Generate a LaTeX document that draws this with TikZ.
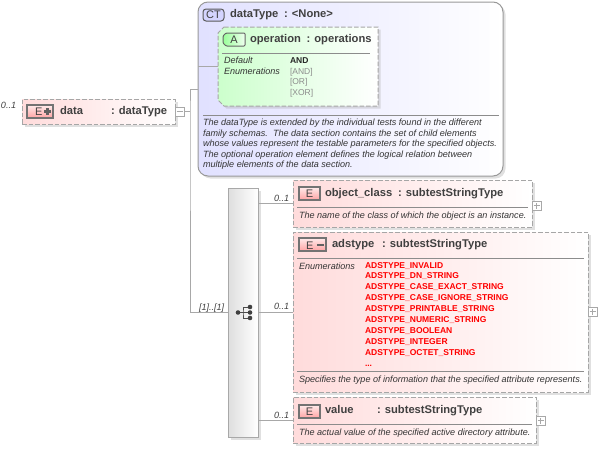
\documentclass[tikz,border=0pt]{standalone}
\usepackage{fontspec}
\setmainfont{Liberation Sans}
\usetikzlibrary{shadows}
\definecolor{cline}{HTML}{A8A8A8}
\definecolor{cdash}{HTML}{A6A6A6}
\definecolor{ctext}{HTML}{404040}
\tikzset{
  x=1pt,y=-1pt,
  conn/.style={draw=cline,line width=0.9pt},
  boxshadow/.style={drop shadow={shadow xshift=2.5pt,shadow yshift=-2.5pt,fill=black!35,opacity=.35}},
  boxbase/.style={inner sep=0pt,outer sep=0pt,draw=cdash,line width=1pt,dash pattern=on 4.5pt off 2pt,boxshadow},
  elembox/.style={boxbase,anchor=north west,left color=red!14,right color=white,rectangle},
  attrshape/.style={boxbase,left color=green!20,right color=white},
  anchorbox/.style={anchor=north west,inner sep=0pt,outer sep=0pt,rectangle},
  ctbox/.style={anchor=north west,inner sep=0pt,outer sep=0pt,rectangle,rounded corners=10pt,draw=black!40,line width=1pt,left color=blue!12,right color=white,boxshadow},
  seqbox/.style={anchor=north west,inner sep=0pt,outer sep=0pt,rectangle,draw=cline,line width=1pt,left color=black!13,right color=white,boxshadow},
  togglebox/.style={anchor=north west,inner sep=0pt,outer sep=0pt,rectangle,draw=cline,line width=0.8pt,fill=white,minimum width=9pt,minimum height=9pt},
  badge/.style={anchor=north west,inner sep=0pt,outer sep=0pt,rectangle,draw=black!55,line width=1.1pt,top color=red!8,bottom color=red!36,minimum height=13pt,text=ctext,font=\fontsize{11}{11}\selectfont},
  ctbadge/.style={anchor=north west,inner sep=0pt,outer sep=0pt,rectangle,rounded corners=3pt,draw=black!65,line width=1pt,fill=blue!17,minimum width=21pt,minimum height=12pt,text=ctext,font=\fontsize{11}{11}\selectfont},
  abadgeshape/.style={draw=black!60,line width=1pt,rounded corners=1pt,left color=green!40,right color=green!6},
  abadgetext/.style={inner sep=0pt,outer sep=0pt,text=ctext,font=\fontsize{11}{11}\selectfont},
  txt/.style={anchor=base west,inner sep=0pt,outer sep=0pt},
  nametxt/.style={txt,font=\bfseries\fontsize{11.2}{11.2}\selectfont,text=ctext},
  smalltxt/.style={txt,font=\itshape\fontsize{9.07}{9.07}\selectfont,text=black!80},
  card/.style={txt,font=\itshape\fontsize{9.07}{9.07}\selectfont,text=ctext},
  enumred/.style={txt,font=\bfseries\fontsize{8.5}{8.5}\selectfont,text=red},
  enumgray/.style={txt,font=\fontsize{8.5}{8.5}\selectfont,text=black!45},
  enumblack/.style={txt,font=\bfseries\fontsize{8.5}{8.5}\selectfont,text=black!85},
  rulel/.style={draw=black!45,line width=0.8pt},
  togl/.style={draw=cline,line width=0.8pt},
  iconl/.style={draw=black!70,line width=0.9pt},
  icond/.style={circle,fill=black!75,inner sep=0pt,outer sep=0pt,minimum size=4.6pt},
  barb/.style={draw=black!62,line width=2.1pt},
}
\begin{document}
\begin{tikzpicture}
\useasboundingbox (0,0) rectangle (598,450);
% --- boxes
\node[ctbox,minimum width=305pt,minimum height=174pt] (ct) at (198,2) {};
\path[attrshape] (224,27) -- (378,27) -- (378,106) -- (224,106) -- (218,100) -- (218,33) -- cycle;
\node[anchorbox,minimum width=160pt,minimum height=79pt] (op) at (218,27) {};
\node[elembox,minimum width=153pt,minimum height=25pt] (data) at (22,99) {};
\node[seqbox,minimum width=30pt,minimum height=249pt] (seq) at (228,188) {};
\node[elembox,minimum width=239pt,minimum height=47pt] (obj) at (293,180) {};
\node[elembox,minimum width=295pt,minimum height=160pt] (ads) at (293,232) {};
\node[elembox,minimum width=243pt,minimum height=46pt] (val) at (293,397) {};
% --- toggles
\node[togglebox] (tdata) at (175,107) {};
\node[togglebox] (tobj) at (532,201) {};
\node[togglebox] (tads) at (588,307) {};
\node[togglebox] (tval) at (536,416) {};
\draw[togl] ([xshift=-3pt]tdata.center) -- ([xshift=3pt]tdata.center);
\foreach \t in {tobj,tads,tval}{
  \draw[togl] ([xshift=-3pt]\t.center) -- ([xshift=3pt]\t.center);
  \draw[togl] ([yshift=-3pt]\t.center) -- ([yshift=3pt]\t.center);
}
% --- connectors
\coordinate (trunk) at (190,111.5);
\coordinate (ctin) at (198,66.5);
\draw[conn] (tdata.east) -- (trunk);
\draw[conn] (ct.west) -| (trunk) |- (seq.west);
\draw[conn] (ctin) -- (op.west);
\draw[conn] (seq.east |- obj.west) -- (obj.west);
\draw[conn] (seq.east |- ads.west) -- (ads.west);
\draw[conn] (seq.east |- val.west) -- (val.west);
% --- cardinalities
\node[card] (c0) at (1,108.5) {0..1};
\node[card] (c1) at (199,310) {[1]..[1]};
\node[card] (c2) at (274,201) {0..1};
\node[card] (c3) at (274,309) {0..1};
\node[card] (c4) at (274,418) {0..1};
% --- data element
\node[badge,minimum width=26pt] (bdata) at (27,105) {};
\node[txt,font=\fontsize{11}{11}\selectfont,text=ctext] (bdatae) at (35,115.5) {E};
\draw[barb] (44,111.5) -- (51,111.5);
\draw[barb] (47.5,108) -- (47.5,115);
\node[nametxt] (ndata) at (60,114) {data};
\node[nametxt] (tdatat) at (111,114) {: dataType};
% --- complex type
\node[ctbadge] (bct) at (203,9) {CT};
\node[nametxt] (nct) at (230,17) {dataType};
\node[nametxt] (tct) at (284,17) {: <None>};
% --- attribute
\path[abadgeshape] (226,33) -- (245,33) -- (245,46) -- (226,46) -- (223,43) -- (223,36) -- cycle;
\node[abadgetext] (bop) at (234,39.5) {A};
\node[nametxt] (nop) at (250,42) {operation};
\node[nametxt] (top) at (306.5,42) {: operations};
\draw[rulel] (222,53) -- (370,53);
\node[smalltxt] (d1) at (224,63) {Default};
\node[smalltxt] (d2) at (224,74) {Enumerations};
\node[enumblack] (e1) at (290,63) {AND};
\node[enumgray] (e2) at (290,74) {[AND]};
\node[enumgray] (e3) at (290,84.5) {[OR]};
\node[enumgray] (e4) at (290,95) {[XOR]};
% --- ct documentation
\draw[rulel] (203,115) -- (499,115);
\node[smalltxt] (l1) at (203,125) {The dataType is extended by the individual tests found in the different};
\node[smalltxt] (l2) at (203,136) {family schemas.\ \ The data section contains the set of child elements};
\node[smalltxt] (l3) at (203,146.5) {whose values represent the testable parameters for the specified objects.};
\node[smalltxt] (l4) at (203,157) {The optional operation element defines the logical relation between};
\node[smalltxt] (l5) at (203,167) {multiple elements of the data section.};
% --- sequence icon
\coordinate (ic1) at (243,312.5);
\node[icond] (da) at (238,312.5) {};
\node[icond] (db) at (250,307) {};
\node[icond] (dc) at (250,312.5) {};
\node[icond] (dd) at (250,318) {};
\draw[iconl] (da) -- (ic1);
\draw[iconl] (db) -| (ic1) |- (dd);
\draw[iconl] (ic1) -- (dc);
% --- object_class
\node[badge,minimum width=21pt] (bobj) at (299,187) {E};
\node[nametxt] (nobj) at (325,196) {object\_class};
\node[nametxt] (tobjt) at (398,196) {: subtestStringType};
\draw[rulel] (297,207) -- (528,207);
\node[smalltxt] (dobj) at (299,218) {The name of the class of which the object is an instance.};
% --- adstype
\node[badge,minimum width=27pt] (bads) at (299,238) {};
\node[txt,font=\fontsize{11}{11}\selectfont,text=ctext] (badse) at (306,249) {E};
\draw[barb] (317,245) -- (324,245);
\node[nametxt] (nads) at (332,247) {adstype};
\node[nametxt] (tads2) at (382,247) {: subtestStringType};
\draw[rulel] (297,258) -- (584,258);
\node[smalltxt] (enl) at (299,269) {Enumerations};
\node[enumred] (a1) at (365,268) {ADSTYPE\_INVALID};
\node[enumred] (a2) at (365,278) {ADSTYPE\_DN\_STRING};
\node[enumred] (a3) at (365,289) {ADSTYPE\_CASE\_EXACT\_STRING};
\node[enumred] (a4) at (365,300) {ADSTYPE\_CASE\_IGNORE\_STRING};
\node[enumred] (a5) at (365,311) {ADSTYPE\_PRINTABLE\_STRING};
\node[enumred] (a6) at (365,322) {ADSTYPE\_NUMERIC\_STRING};
\node[enumred] (a7) at (365,333) {ADSTYPE\_BOOLEAN};
\node[enumred] (a8) at (365,344) {ADSTYPE\_INTEGER};
\node[enumred] (a9) at (365,355) {ADSTYPE\_OCTET\_STRING};
\node[enumred] (a10) at (365,366) {...};
\draw[rulel] (297,371) -- (584,371);
\node[smalltxt] (dads) at (299,382) {Specifies the type of information that the specified attribute represents.};
% --- value
\node[badge,minimum width=21pt] (bval) at (299,405) {E};
\node[nametxt] (nval) at (325,413) {value};
\node[nametxt] (tval2) at (377,413) {: subtestStringType};
\draw[rulel] (297,424) -- (532,424);
\node[smalltxt] (dval) at (299,435) {The actual value of the specified active directory attribute.};
\end{tikzpicture}
\end{document}
